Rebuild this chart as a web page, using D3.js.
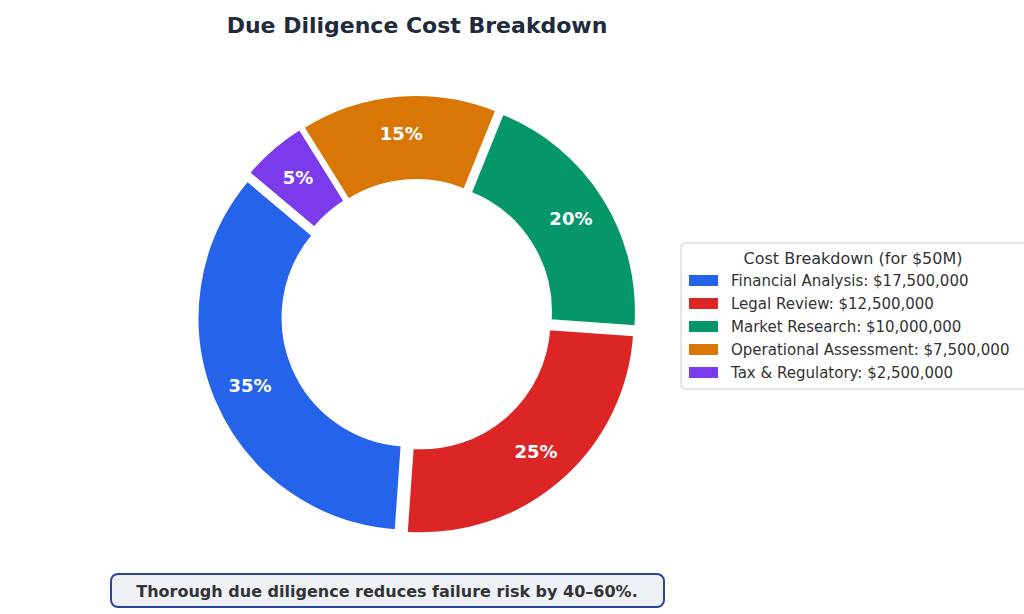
<!DOCTYPE html><html><head><meta charset="utf-8">
<script src="https://cdn.jsdelivr.net/npm/d3@7"></script>
<style>body{margin:0;background:#fff}svg{font-family:"DejaVu Sans",sans-serif}</style></head><body>
<svg id="c" width="1024" height="614"></svg>
<script>
const categories=["Financial Analysis","Legal Review","Market Research","Operational Assessment","Tax & Regulatory"];
const values=[17500000,12500000,10000000,7500000,2500000];
const colors=["#2563eb","#dc2626","#059669","#d97706","#7c3aed"];
const svg=d3.select("#c");
const cx=417,cy=315,R=213,r=128,startDeg=140,explode=7;
const total=d3.sum(values);
const fmt=d3.format(",");
svg.append("text").attr("x",417).attr("y",33).attr("text-anchor","middle").attr("font-size",22).attr("font-weight","bold").attr("fill","#1f2a3c").text("Due Diligence Cost Breakdown");
let a=startDeg;
const arc=d3.arc().innerRadius(r).outerRadius(R);
const g=svg.append("g").attr("transform",`translate(${cx},${cy})`);
values.forEach((v,i)=>{
  const f=v/total,a0=a,a1=a+f*360;a=a1;
  const mid=(a0+a1)/2*Math.PI/180;
  const dx=explode*Math.cos(mid),dy=-explode*Math.sin(mid);
  const sa=(90-a1)*Math.PI/180,ea=(90-a0)*Math.PI/180;
  const w=g.append("g").attr("transform",`translate(${dx},${dy})`);
  w.append("path").attr("d",arc({startAngle:sa,endAngle:ea})).attr("fill",colors[i]).attr("stroke","#fff").attr("stroke-width",2);
  const lr=(R+r)/2+4;
  w.append("text").attr("x",lr*Math.cos(mid)).attr("y",-lr*Math.sin(mid)).attr("dy","0.35em").attr("text-anchor","middle").attr("font-size",18).attr("font-weight","bold").attr("fill","#fff").text(Math.round(f*100)+"%");
});
// legend
const L=svg.append("g").attr("transform","translate(681,243)");
L.append("rect").attr("width",350).attr("height",146).attr("rx",4).attr("fill","#fff").attr("stroke","#ccc");
L.append("text").attr("x",172).attr("y",21).attr("text-anchor","middle").attr("font-size",16).attr("fill","#333").text("Cost Breakdown (for $50M)");
categories.forEach((c,i)=>{
  const y=38+i*23;
  L.append("rect").attr("x",8).attr("y",y-6).attr("width",29).attr("height",11).attr("fill",colors[i]);
  L.append("text").attr("x",50).attr("y",y).attr("dy","0.35em").attr("font-size",15).attr("fill","#333").text(`${c}: $${fmt(values[i])}`);
});
svg.append("rect").attr("x",111).attr("y",574).attr("width",553).attr("height",33).attr("rx",7).attr("fill","#eef2f7").attr("stroke","#2a45a0").attr("stroke-width",2);
svg.append("text").attr("x",387).attr("y",591).attr("dy","0.35em").attr("text-anchor","middle").attr("font-size",16).attr("font-weight","bold").attr("fill","#333").text("Thorough due diligence reduces failure risk by 40–60%.");
</script></body></html>
